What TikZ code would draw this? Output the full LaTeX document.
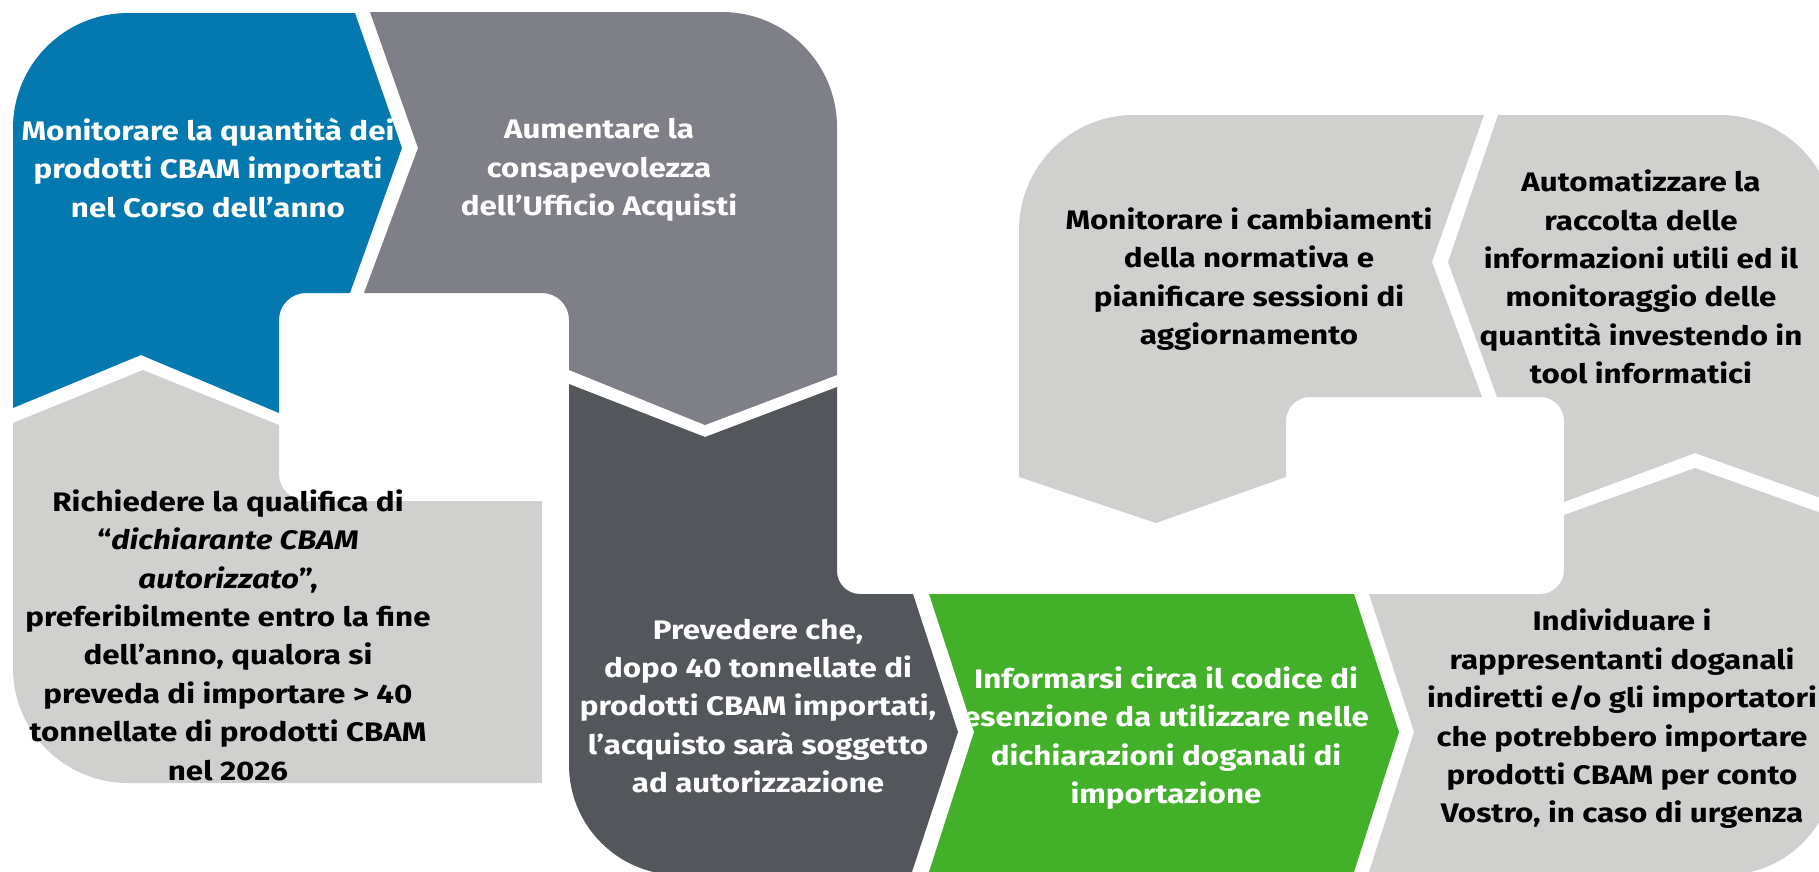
\documentclass[tikz,border=0pt]{standalone}
\usepackage{fontspec}
\setmainfont{Fira Sans}[FakeStretch=1.17]
\definecolor{cblue}{HTML}{0379B0}
\definecolor{cgray}{HTML}{7E7F87}
\definecolor{cdark}{HTML}{53565B}
\definecolor{clight}{HTML}{D0D0CE}
\definecolor{cgreen}{HTML}{43B02A}
\tikzset{
  txt/.style={align=center, inner sep=0pt, font=\fontsize{26.8}{38.4}\selectfont\bfseries},
  wtxt/.style={txt, text=white},
  btxt/.style={txt, text=black}
}
\def\pBlue{(13,408) -- (13,128) .. controls (13,64.5) and (64.5,13) .. (128,13) -- (355,13) -- (402,148) -- (350,293) -- (306,293) .. controls (291.1,293) and (279,304.9) .. (279,320) -- (279,413) -- (141,355) -- cycle}
\def\pGray{(370,12) -- (722,12) .. controls (785.5,12) and (837,63.5) .. (837,127) -- (837,375) -- (705,425) -- (569,370) -- (569,320) .. controls (569,304.9) and (556.9,293) .. (542,293) -- (364,293) -- (418,148) -- cycle}
\def\pLight{(13,423) -- (143,370) -- (279,425) -- (279,474) .. controls (279,488.9) and (291.1,501) .. (306,501) -- (542,501) -- (542,783) -- (128,783) .. controls (64.5,783) and (13,731.5) .. (13,668) -- cycle}
\def\pDark{(569,384) -- (705,437) -- (837,387) -- (837,571) .. controls (837,583.7) and (847.3,594) .. (860,594) -- (913,594) -- (958,732) -- (911,875) -- (679,875) .. controls (618.25,875) and (569,825.75) .. (569,765) -- cycle}
\def\pGreen{(929,594) -- (1354,594) -- (1399,732) -- (1353,875) -- (928,875) -- (974,732) -- cycle}
\def\pIndiv{(1369,594) -- (1540,594) .. controls (1553.3,594) and (1564,583.3) .. (1564,570) -- (1564,515) -- (1695,468) -- (1835,518) -- (1835,765) .. controls (1835,825.75) and (1785.75,875) .. (1725,875) -- (1368,875) -- (1414,732) -- cycle}
\def\pAuto{(1498,115) -- (1720,115) .. controls (1783.5,115) and (1835,166.5) .. (1835,230) -- (1835,503) -- (1695,453) -- (1564,502) -- (1564,421) .. controls (1564,407.7) and (1553.3,397) .. (1540,397) -- (1497,397) -- (1448,262) -- cycle}
\def\pMonit{(1019,230) .. controls (1019,166.5) and (1070.5,115) .. (1134,115) -- (1484,115) -- (1432,262) -- (1482,397) -- (1310,397) .. controls (1296.7,397) and (1286,407.7) .. (1286,421) -- (1286,477) -- (1156,523) -- (1019,477) -- cycle}
\begin{document}
\begin{tikzpicture}[x=1pt,y=-1pt]
\useasboundingbox (0,0) rectangle (1819,871);
\clip (0,0) rectangle (1819,871);
% shapes
\fill[cblue] \pBlue;
\fill[cgray] \pGray;
\fill[clight] \pLight;
\fill[cdark] \pDark;
\fill[cgreen] \pGreen;
\fill[clight] \pIndiv;
\fill[clight] \pAuto;
\fill[clight] \pMonit;
% texts
\begin{scope}\clip \pBlue;
\node[wtxt] (tblue) at (208,168) {Monitorare la quantità dei\\prodotti CBAM importati\\nel Corso dell’anno};
\end{scope}
\begin{scope}\clip \pGray;
\node[wtxt] (tgray) at (599,170) {Aumentare la\\consapevolezza\\dell’Ufficio Acquisti};
\end{scope}
\node[btxt] (tlight) at (228,635) {Richiedere la qualifica di\\“\textit{dichiarante CBAM}\\\textit{autorizzato}”,\\preferibilmente entro la fine\\dell’anno, qualora si\\preveda di importare > 40\\tonnellate di prodotti CBAM\\nel 2026};
\begin{scope}\clip \pDark;
\node[wtxt] (tdark) at (758,706) {Prevedere che,\\dopo 40 tonnellate di\\prodotti CBAM importati,\\l’acquisto sarà soggetto\\ad autorizzazione};
\end{scope}
\begin{scope}\clip \pGreen;
\node[wtxt] (tgreen) at (1166,738) {Informarsi circa il codice di\\esenzione da utilizzare nelle\\dichiarazioni doganali di\\importazione};
\end{scope}
\node[btxt] (tindiv) at (1622,719) {Individuare i\\rappresentanti doganali\\indiretti e/o gli importatori\\che potrebbero importare\\prodotti CBAM per conto\\Vostro, in caso di urgenza};
\node[btxt] (tauto) at (1641,277) {Automatizzare la\\raccolta delle\\informazioni utili ed il\\monitoraggio delle\\quantità investendo in\\tool informatici};
\node[btxt] (tmonit) at (1249,279) {Monitorare i cambiamenti\\della normativa e\\pianificare sessioni di\\aggiornamento};
\end{tikzpicture}
\end{document}
